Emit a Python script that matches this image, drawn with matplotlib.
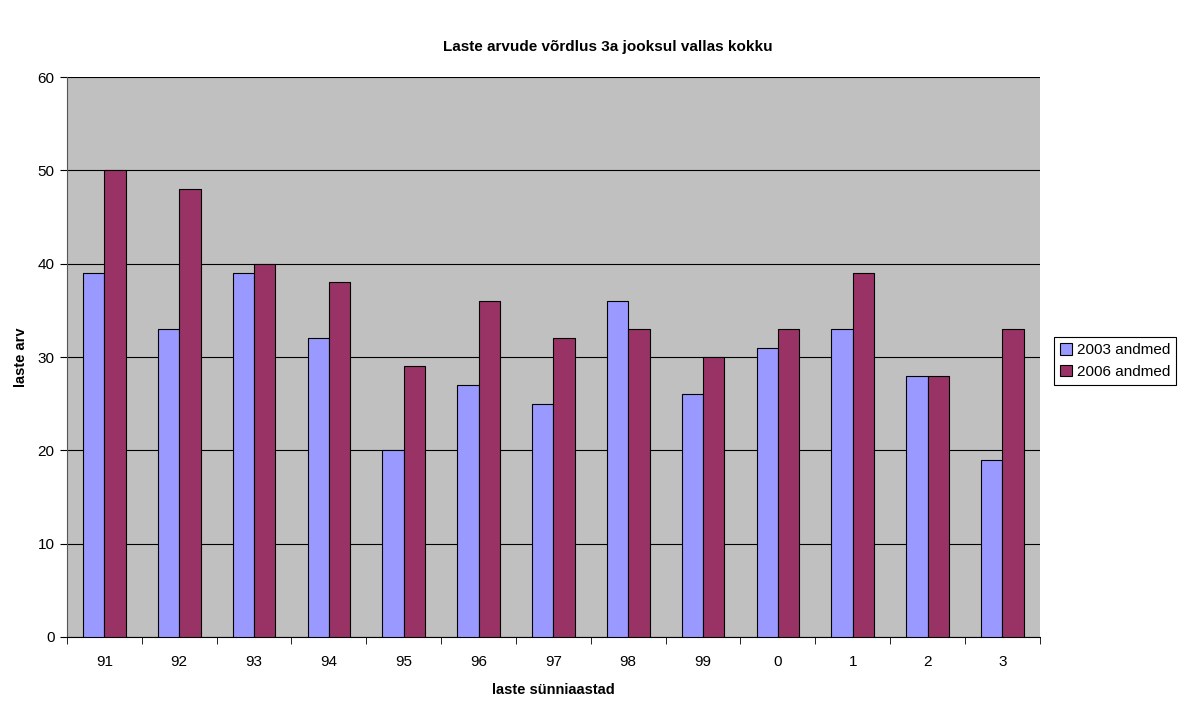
import matplotlib.pyplot as plt
import numpy as np

plt.rcParams['font.family'] = ['Liberation Sans', 'DejaVu Sans']

years = ["91", "92", "93", "94", "95", "96", "97", "98", "99", "0", "1", "2", "3"]
data_2003 = [39, 33, 39, 32, 20, 27, 25, 36, 26, 31, 33, 28, 19]
data_2006 = [50, 48, 40, 38, 29, 36, 32, 33, 30, 33, 39, 28, 33]

fig = plt.figure(figsize=(11.85, 7.02), dpi=100)
ax = fig.add_axes([0.0565, 0.0926, 0.821, 0.7977])
ax.set_facecolor("#c0c0c0")

x = np.arange(len(years))
w = 1 / 3.5
ax.bar(x - w / 2, data_2003, w, color="#9999ff", edgecolor="black", linewidth=0.8, label="2003 andmed", zorder=3)
ax.bar(x + w / 2, data_2006, w, color="#993366", edgecolor="black", linewidth=0.8, label="2006 andmed", zorder=3)

ax.set_xlim(-0.5, len(years) - 0.5)
ax.set_ylim(0, 60)
ax.set_yticks(range(0, 61, 10))
ax.set_xticks(x)
ax.set_xticklabels(years, fontsize=11)
ax.set_xticks(np.arange(-0.5, len(years)), minor=True)
ax.tick_params(axis="x", which="major", length=0, pad=13)
ax.tick_params(axis="x", which="minor", length=5, direction="out")
ax.tick_params(axis="y", length=5, direction="out", labelsize=11, pad=4)
ax.yaxis.grid(True, color="black", linewidth=0.8, zorder=1)

for side in ["top", "right"]:
    ax.spines[side].set_visible(False)
ax.spines["left"].set_color("#555555")
ax.spines["bottom"].set_color("black")

ax.set_xlabel("laste sünniaastad", fontsize=10.5, fontweight="bold", labelpad=10)
ax.set_ylabel("laste arv", fontsize=10.5, fontweight="bold", labelpad=7)
fig.suptitle("Laste arvude võrdlus 3a jooksul vallas kokku", fontsize=11, fontweight="bold", x=0.513, y=0.943)

leg = fig.legend(loc="center left", bbox_to_anchor=(0.883, 0.486), fontsize=11,
                 fancybox=False, framealpha=1, edgecolor="black", handlelength=0.8,
                 handleheight=0.8, handletextpad=0.3, borderpad=0.4, labelspacing=0.5)
leg.get_frame().set_linewidth(0.8)

fig.savefig("out.png", dpi=100)
